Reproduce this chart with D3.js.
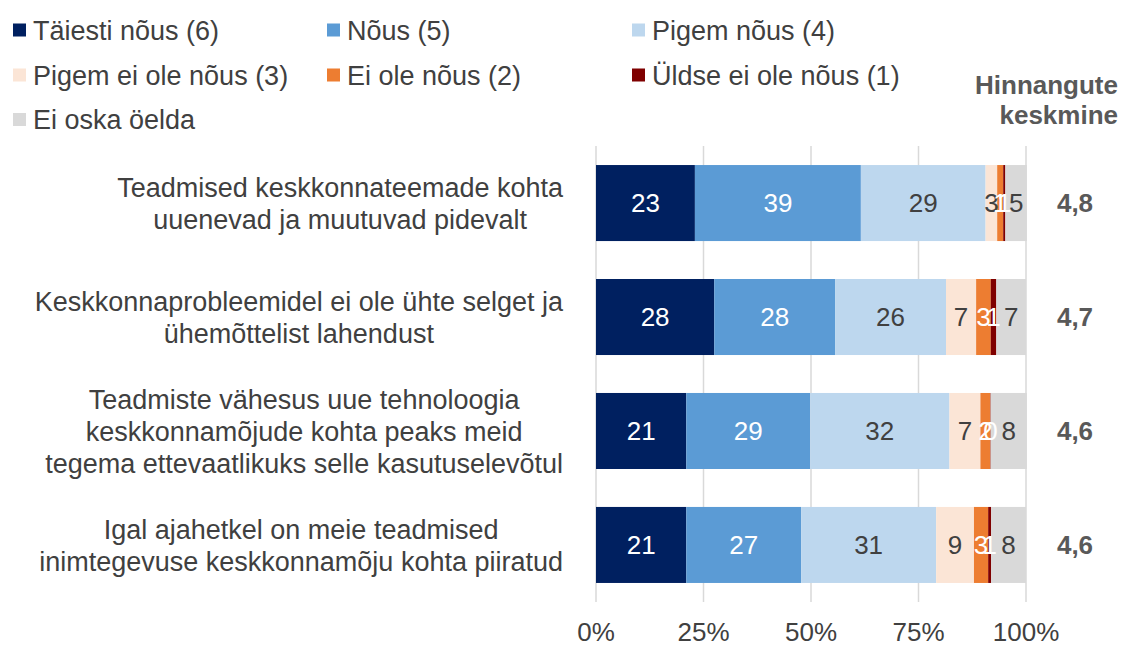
<!DOCTYPE html>
<html>
<head>
<meta charset="utf-8">
<script src="https://cdnjs.cloudflare.com/ajax/libs/d3/7.8.5/d3.min.js"></script>
<style>
  body { margin: 0; background: #fff; }
  text { font-family: "Liberation Sans", Arial, sans-serif; }
</style>
</head>
<body>
<svg class="chart"></svg>
<script>
var Width = 1124,
    Height = 645,
    fontSize = 26,
    labelFont = 27;

// categories (each statement split into its lines)
var categories = [
  ["Teadmised keskkonnateemade kohta", "uuenevad ja muutuvad pidevalt"],
  ["Keskkonnaprobleemidel ei ole ühte selget ja", "ühemõttelist lahendust"],
  ["Teadmiste vähesus uue tehnoloogia", "keskkonnamõjude kohta peaks meid", "tegema ettevaatlikuks selle kasutuselevõtul"],
  ["Igal ajahetkel on meie teadmised", "inimtegevuse keskkonnamõju kohta piiratud"]
];

// series, %
var seriesNames = ["Täiesti nõus (6)", "Nõus (5)", "Pigem nõus (4)", "Pigem ei ole nõus (3)", "Ei ole nõus (2)", "Üldse ei ole nõus (1)", "Ei oska öelda"];
var taiestiNous  = [23, 27.5, 21, 21];
var nous         = [38.6, 28.1, 28.8, 26.7];
var pigemNous    = [29, 25.8, 32.4, 31.4];
var pigemEiOle   = [2.7, 7, 7.2, 8.8];
var eiOleNous    = [1.4, 3.4, 2.3, 3.3];
var uldseEiOle   = [0.5, 1.3, 0.1, 0.7];
var eiOskaOelda  = [5, 6.9, 8.4, 8.1];
var averages     = [4.8, 4.7, 4.6, 4.6];
var xTicks       = [0, 25, 50, 75, 100];

var colors = ["#002060", "#5b9bd5", "#bdd7ee", "#fbe5d6", "#ed7d31", "#7f0000", "#d9d9d9"];
var labelColors = ["#fff", "#fff", "#404040", "#404040", "#fff", "#fff", "#404040"];

var seriesValues = [taiestiNous, nous, pigemNous, pigemEiOle, eiOleNous, uldseEiOle, eiOskaOelda];

// table for the stack
var data = categories.map(function(c, i) {
  var row = { idx: i };
  seriesNames.forEach(function(s, j) { row[s] = seriesValues[j][i]; });
  return row;
});

var stack = d3.stack().keys(seriesNames);
var layers = stack(data);

var x = d3.scaleLinear().domain([0, 100]).range([596, 1026]);
var y = d3.scaleBand().domain(d3.range(categories.length)).range([146, 602])
    .paddingInner(0.333).paddingOuter(0.167);

var chart = d3.select(".chart").attr("width", Width).attr("height", Height);

// gridlines
chart.append("g").selectAll("line")
  .data(xTicks).enter().append("line")
  .attr("x1", function(d) { return x(d); })
  .attr("x2", function(d) { return x(d); })
  .attr("y1", 146).attr("y2", 602)
  .attr("stroke", "#d9d9d9").attr("stroke-width", 1.5);

// x axis tick labels
chart.append("g").selectAll("text")
  .data(xTicks).enter().append("text")
  .attr("x", function(d) { return x(d); })
  .attr("y", 641)
  .attr("text-anchor", "middle")
  .attr("font-size", fontSize)
  .attr("fill", "#404040")
  .text(function(d) { return d + "%"; });

// bars
var groups = chart.append("g").selectAll("g")
  .data(layers).enter().append("g")
  .attr("fill", function(d, i) { return colors[i]; });

groups.selectAll("rect")
  .data(function(d) { return d; })
  .enter().append("rect")
  .attr("x", function(d) { return x(d[0]); })
  .attr("y", function(d) { return y(d.data.idx); })
  .attr("width", function(d) { return x(d[1]) - x(d[0]); })
  .attr("height", y.bandwidth());

// value labels
var labelGroups = chart.append("g").selectAll("g")
  .data(layers).enter().append("g")
  .attr("fill", function(d, i) { return labelColors[i]; });

labelGroups.selectAll("text")
  .data(function(d) { return d; })
  .enter().append("text")
  .attr("x", function(d) { return (x(d[0]) + x(d[1])) / 2; })
  .attr("y", function(d) { return y(d.data.idx) + y.bandwidth() / 2 + 9.3; })
  .attr("text-anchor", "middle")
  .attr("font-size", fontSize)
  .text(function(d) { return Math.round(d[1] - d[0]); });

// category labels, centred lines, block right-aligned near the bars
var lineH = 32;
var catLabels = chart.append("g").selectAll("text")
  .data(categories).enter().append("text")
  .attr("font-size", labelFont)
  .attr("fill", "#404040")
  .attr("text-anchor", "middle");

catLabels.each(function(lines, i) {
  var t = d3.select(this);
  var cy = y(i) + y.bandwidth() / 2;
  var top = cy - (lines.length - 1) * lineH / 2;
  var tsp = t.selectAll("tspan").data(lines).enter().append("tspan")
    .attr("y", function(d, k) { return top + k * lineH + 9.6; })
    .text(function(d) { return d; });
  var maxW = 0;
  tsp.each(function() { maxW = Math.max(maxW, this.getComputedTextLength()); });
  tsp.attr("x", 563 - maxW / 2);
});

// averages column
chart.append("g").selectAll("text")
  .data(averages).enter().append("text")
  .attr("x", 1075)
  .attr("y", function(d, i) { return y(i) + y.bandwidth() / 2 + 9.3; })
  .attr("text-anchor", "middle")
  .attr("font-size", fontSize)
  .attr("font-weight", "bold")
  .attr("fill", "#595959")
  .text(function(d) { return d3.format(".1f")(d).replace(".", ","); });

var avgTitle = chart.append("text")
  .attr("text-anchor", "end")
  .attr("font-size", fontSize)
  .attr("font-weight", "bold")
  .attr("fill", "#595959");
avgTitle.append("tspan").attr("x", 1118).attr("y", 94).text("Hinnangute");
avgTitle.append("tspan").attr("x", 1118).attr("y", 124).text("keskmine");

// legend
var legendCols = [13, 327, 632],
    legendRows = [30, 75, 119.5];

var legend = chart.append("g").selectAll("g")
  .data(seriesNames).enter().append("g")
  .attr("transform", function(d, i) {
    return "translate(" + legendCols[i % 3] + "," + legendRows[Math.floor(i / 3)] + ")";
  });

legend.append("rect")
  .attr("x", 0).attr("y", -6.5)
  .attr("width", 13).attr("height", 13)
  .attr("fill", function(d, i) { return colors[i]; });

legend.append("text")
  .attr("x", 20).attr("y", 9.6)
  .attr("font-size", labelFont)
  .attr("fill", "#404040")
  .text(function(d) { return d; });
</script>
</body>
</html>
